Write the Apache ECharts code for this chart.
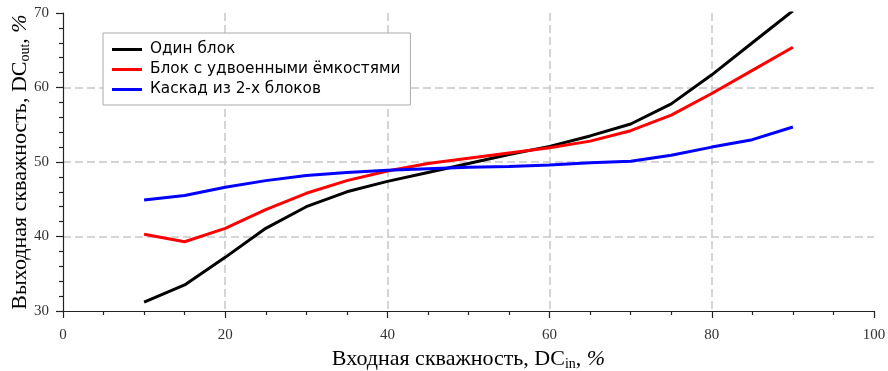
<!DOCTYPE html>
<html><head><meta charset="utf-8">
<script src="https://cdn.jsdelivr.net/npm/echarts@6/dist/echarts.min.js"></script>
<style>html,body{margin:0;padding:0;background:#fff}#c{width:888px;height:371px}</style>
</head><body><div id="c"></div>
<script>
const xIn = [10,15,20,25,30,35,40,45,50,55,60,65,70,75,80,85,90];
const oneBlock = [31.2,33.5,37.2,41.1,44.0,46.0,47.4,48.6,49.8,51.0,52.1,53.5,55.1,57.8,61.7,66.0,70.3];
const doubledCap = [40.3,39.3,41.1,43.6,45.8,47.5,48.8,49.8,50.5,51.2,51.9,52.8,54.2,56.3,59.2,62.3,65.4];
const cascade = [44.9,45.5,46.6,47.5,48.2,48.6,48.9,49.1,49.3,49.4,49.6,49.9,50.1,50.9,52.0,53.0,54.7];
const seriesNames = ['Один блок','Блок с удвоенными ёмкостями','Каскад из 2-х блоков'];
const seriesColors = ['#000000','#ff0000','#0000ff'];
const xTicks = [0,20,40,60,80,100];
const yTicks = [30,40,50,60,70];

const pair = a => xIn.map((x,i)=>[x,a[i]]);
const allData = [oneBlock, doubledCap, cascade];
const serif = 'Liberation Serif';
const nameRich = {
  m:{fontFamily:serif,fontSize:22,color:'#000',lineHeight:24},
  p:{fontFamily:serif,fontSize:22,color:'#000',lineHeight:24,fontStyle:'italic'},
  s:{fontFamily:serif,fontSize:14,color:'#000',verticalAlign:'bottom',lineHeight:9}
};
const chart = echarts.init(document.getElementById('c'));
chart.setOption({
  animation:false,
  grid:{left:63,right:14,top:13,bottom:60,containLabel:false,outerBoundsMode:'none'},
  legend:{
    orient:'vertical', left:103, top:33, padding:[9,10,8,9],
    borderColor:'#aaaaaa', borderWidth:1, backgroundColor:'#fff',
    itemWidth:30, itemHeight:3, itemGap:5, icon:'rect',
    textStyle:{fontFamily:'DejaVu Sans', fontSize:15.3, color:'#000', padding:[0,0,0,3]},
    data:seriesNames
  },
  xAxis:{
    type:'value', min:xTicks[0], max:xTicks[xTicks.length-1], interval:20,
    name:'{m|Входная скважность, DC}{s|in}{m|, }{p|%}', nameLocation:'middle', nameGap:36,
    nameMoveOverlap:false,
    nameTextStyle:{rich:nameRich},
    axisLine:{show:true,lineStyle:{color:'#222',width:1.2}},
    axisTick:{show:true,length:7,inside:false,lineStyle:{color:'#222',width:1.2}},
    minorTick:{show:true,splitNumber:4,length:4,lineStyle:{color:'#222',width:1.2}},
    axisLabel:{fontFamily:serif,fontSize:15,color:'#333',margin:17,
      formatter:v=>xTicks.includes(v)?String(v):''},
    splitLine:{show:true,lineStyle:{color:'#c8c8c8',width:1.5,type:[8,4]},
      showMinLine:false, showMaxLine:false}
  },
  yAxis:{
    type:'value', min:yTicks[0], max:yTicks[yTicks.length-1], interval:10,
    name:'{m|Выходная скважность, DC}{s|out}{m|, }{p|%}', nameLocation:'middle', nameGap:31, nameRotate:90,
    nameMoveOverlap:false,
    nameTextStyle:{rich:nameRich},
    axisLine:{show:true,lineStyle:{color:'#222',width:1.2}},
    axisTick:{show:true,length:7,lineStyle:{color:'#222',width:1.2}},
    minorTick:{show:true,splitNumber:5,length:4,lineStyle:{color:'#222',width:1.2}},
    axisLabel:{fontFamily:serif,fontSize:15,color:'#333',margin:14},
    splitLine:{show:true,lineStyle:{color:'#c8c8c8',width:1.5,type:[8,4]},
      showMinLine:false, showMaxLine:false}
  },
  series: seriesNames.map((n,i)=>({
    name:n, type:'line', data:pair(allData[i]), showSymbol:false, symbol:'none',
    lineStyle:{color:seriesColors[i],width:3}, itemStyle:{color:seriesColors[i]},
    clip:true, z:3+i
  }))
});
</script></body></html>
